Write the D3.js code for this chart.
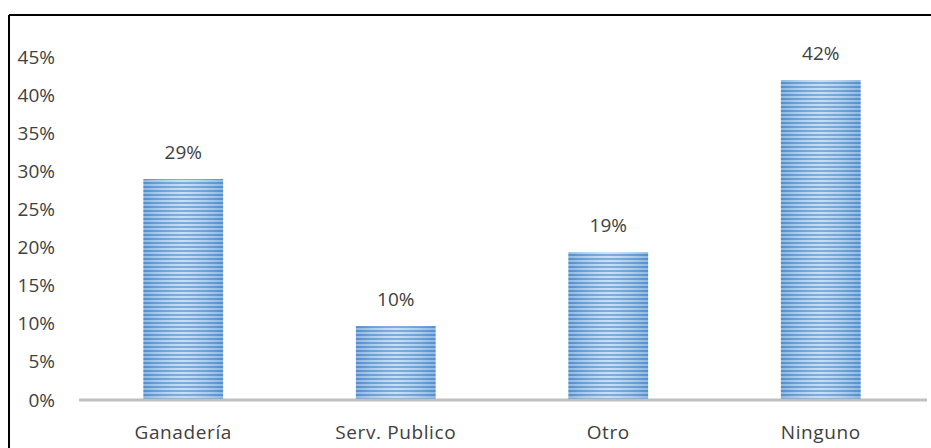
<!DOCTYPE html>
<html>
<head>
<meta charset="utf-8">
<script src="https://cdn.jsdelivr.net/npm/d3@7"></script>
<style>
  body { margin: 0; background: #fff; }
  text { font-family: "Open Sans", Lato, sans-serif; fill: #404040; }
</style>
</head>
<body>
<div id="chart"></div>
<script>
// data
const categories = ["Ganadería", "Serv. Publico", "Otro", "Ninguno"];
const values = [29, 9.7, 19.4, 42];
const valueLabels = ["29%", "10%", "19%", "42%"];
const tickValues = [0, 5, 10, 15, 20, 25, 30, 35, 40, 45];

const W = 931, H = 448;
const zeroY = 400;
const fontSize = 19;

const svg = d3.select("#chart").append("svg")
  .attr("width", W)
  .attr("height", H);

// stripe pattern for the bars
const defs = svg.append("defs");
const pat = defs.append("pattern")
  .attr("id", "stripes")
  .attr("patternUnits", "userSpaceOnUse")
  .attr("width", 8)
  .attr("height", 4);
pat.append("rect").attr("width", 8).attr("height", 4).attr("fill", "#bcd6f0");
pat.append("rect").attr("y", 2).attr("width", 8).attr("height", 2).attr("fill", "#5b98d6");

const grad = defs.append("linearGradient").attr("id", "shade");
grad.append("stop").attr("offset", "0%").attr("stop-color", "#3f7fc4").attr("stop-opacity", 0.35);
grad.append("stop").attr("offset", "50%").attr("stop-color", "#ffffff").attr("stop-opacity", 0.2);
grad.append("stop").attr("offset", "100%").attr("stop-color", "#3f7fc4").attr("stop-opacity", 0.35);

// frame (only left and top visible)
svg.append("line").attr("x1", 9).attr("x2", W).attr("y1", 15).attr("y2", 15)
  .attr("stroke", "#000").attr("stroke-width", 2);
svg.append("line").attr("x1", 9).attr("x2", 9).attr("y1", 15).attr("y2", H)
  .attr("stroke", "#000").attr("stroke-width", 2);

// scales
const x = d3.scaleBand()
  .domain(categories)
  .range([77, 927])
  .paddingInner(0.625)
  .paddingOuter(0.3125);

const y = d3.scaleLinear()
  .domain([0, 42])
  .range([zeroY, 80]);

// y axis: labels only
const yAxis = d3.axisLeft(y)
  .tickValues(tickValues)
  .tickFormat(d => d + "%")
  .tickSize(0)
  .tickPadding(0);

const gy = svg.append("g")
  .attr("transform", "translate(55,0)")
  .call(yAxis);
gy.select(".domain").remove();
gy.selectAll("text")
  .attr("font-size", fontSize)
  .attr("font-family", "'Open Sans', Lato, sans-serif")
  .attr("fill", "#404040");

// bars
const bars = svg.append("g");
bars.selectAll("rect.bar")
  .data(values)
  .enter().append("rect")
  .attr("class", "bar")
  .attr("x", (d, i) => x(categories[i]))
  .attr("y", d => y(d))
  .attr("width", x.bandwidth())
  .attr("height", d => y(0) - y(d))
  .attr("fill", "url(#stripes)");
bars.selectAll("rect.shade")
  .data(values)
  .enter().append("rect")
  .attr("class", "shade")
  .attr("x", (d, i) => x(categories[i]))
  .attr("y", d => y(d))
  .attr("width", x.bandwidth())
  .attr("height", d => y(0) - y(d))
  .attr("fill", "url(#shade)");

// x axis line
svg.append("line")
  .attr("x1", 79).attr("x2", 927)
  .attr("y1", y(0)).attr("y2", y(0))
  .attr("stroke", "#bfbfbf").attr("stroke-width", 3);

// category labels
svg.append("g").selectAll("text")
  .data(categories)
  .enter().append("text")
  .attr("x", d => x(d) + x.bandwidth() / 2)
  .attr("y", 439)
  .attr("text-anchor", "middle")
  .attr("font-size", fontSize)
  .attr("letter-spacing", 0.6)
  .text(d => d);

// value labels
svg.append("g").selectAll("text")
  .data(values)
  .enter().append("text")
  .attr("x", (d, i) => x(categories[i]) + x.bandwidth() / 2)
  .attr("y", d => y(d) - 20)
  .attr("text-anchor", "middle")
  .attr("font-size", fontSize)
  .text((d, i) => valueLabels[i]);
</script>
</body>
</html>
